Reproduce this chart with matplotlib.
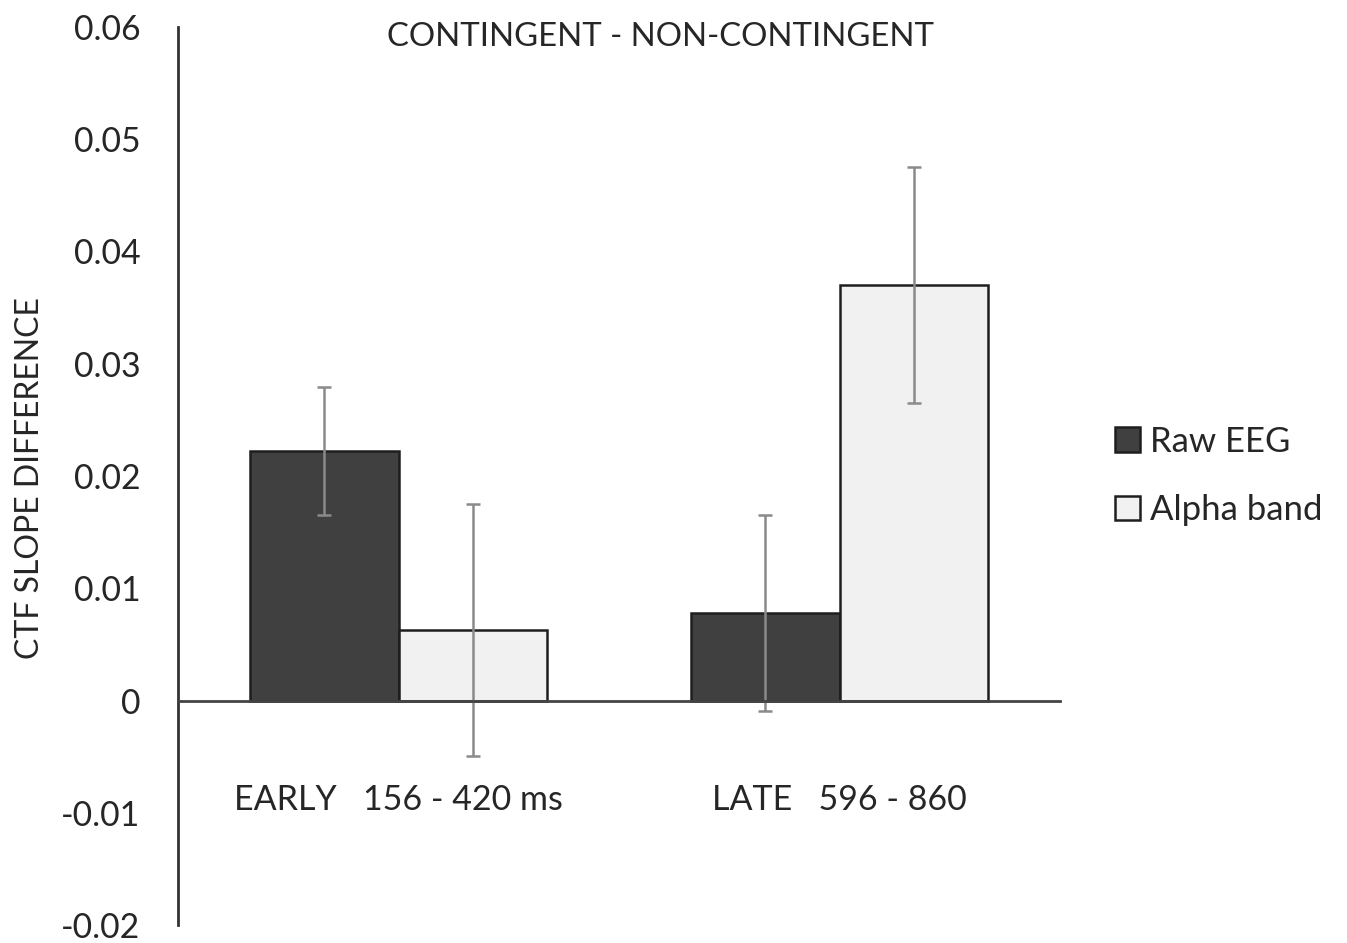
import matplotlib
matplotlib.use("Agg")
import matplotlib.pyplot as plt
import numpy as np

plt.rcParams['font.family'] = ['Lato', 'DejaVu Sans']

categories = ["EARLY   156 - 420 ms", "LATE   596 - 860"]
series_names = ["Raw EEG", "Alpha band"]
raw_eeg = [0.0222, 0.0078]
raw_eeg_err = [0.0057, 0.0087]
alpha_band = [0.0063, 0.0370]
alpha_band_err = [0.0112, 0.0105]
yticks = [-0.02, -0.01, 0, 0.01, 0.02, 0.03, 0.04, 0.05, 0.06]
yticklabels = ["-0.02", "-0.01", "0", "0.01", "0.02", "0.03", "0.04", "0.05", "0.06"]
title = "CONTINGENT - NON-CONTINGENT"
ylabel = "CTF SLOPE DIFFERENCE"

fig = plt.figure(figsize=(13.47, 9.43), dpi=100)
ax = fig.add_axes([178/1347, 1-925/943, (1060-178)/1347, (925-27)/943])

x = np.arange(len(categories))
w = 0.336
edge = '#1e1e1e'
errkw = dict(ecolor='#8a8a8a', elinewidth=1.8, capsize=5, capthick=1.8)
b1 = ax.bar(x - w/2, raw_eeg, w, yerr=raw_eeg_err, color='#404040', edgecolor=edge,
            linewidth=1.8, label=series_names[0], error_kw=errkw, zorder=2)
b2 = ax.bar(x + w/2, alpha_band, w, yerr=alpha_band_err, color='#f1f1f1', edgecolor=edge,
            linewidth=1.8, label=series_names[1], error_kw=errkw, zorder=2)

ax.set_xlim(-0.5, 1.5)
ax.set_ylim(-0.02, 0.06)
ax.set_yticks(yticks)
ax.set_yticklabels(yticklabels, fontsize=24.3, color='#262626')
ax.tick_params(axis='y', length=0, pad=27)
ax.set_xticks([])

for s in ['top', 'right']:
    ax.spines[s].set_visible(False)
ax.spines['left'].set_linewidth(2)
ax.spines['left'].set_color('#333333')
ax.spines['bottom'].set_position(('data', 0))
ax.spines['bottom'].set_linewidth(2)
ax.spines['bottom'].set_color('#444444')
ax.spines['bottom'].set_zorder(3)

for i, c in enumerate(categories):
    ax.text(x[i], -0.0089, c, ha='center', va='center', fontsize=24.5, color='#262626')

ax.text(0.595, 0.0591, title, ha='center', va='center', fontsize=23.7, color='#262626')

fig.text(30/1347, 1-478/943, ylabel, rotation=90, ha='center', va='center',
         fontsize=23, color='#262626')

leg = ax.legend(loc='center left', bbox_to_anchor=(1084/1347, 1-476/943),
                bbox_transform=fig.transFigure, frameon=False, fontsize=25,
                handlelength=0.7, handleheight=0.7, handletextpad=0.3,
                labelspacing=1.05, labelcolor='#262626')

fig.savefig("out.png", dpi=100)
